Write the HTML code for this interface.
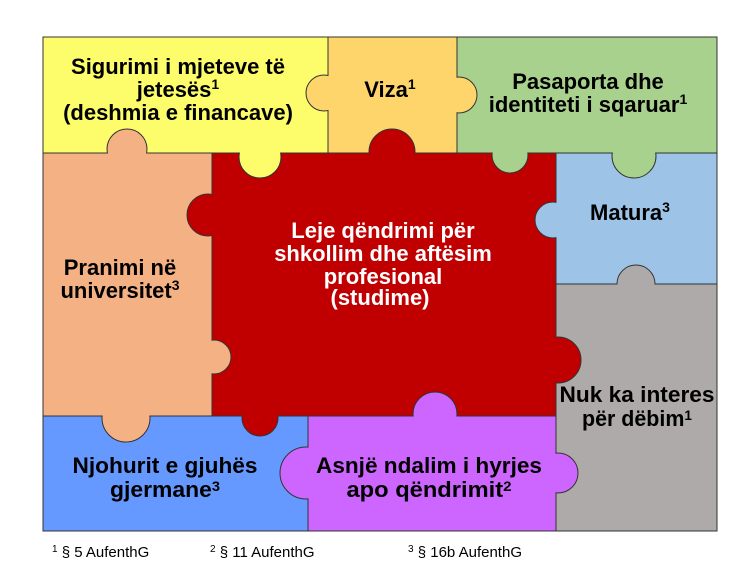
<!DOCTYPE html>
<html><head><meta charset="utf-8"><style>
html,body{margin:0;padding:0;background:#fff;width:754px;height:583px;overflow:hidden}
svg{display:block}
text{font-family:"Liberation Sans",Arial,sans-serif;font-weight:bold;font-size:22px;fill:#000}
.w{fill:#fff}
.f{font-weight:normal;font-size:15px}
</style></head><body>
<svg width="754" height="583" viewBox="0 0 754 583" xmlns="http://www.w3.org/2000/svg">
<g stroke="#333" stroke-width="1">
<rect x="43" y="37" width="285" height="116" fill="#fdfd6b"/>
<rect x="328" y="37" width="129" height="116" fill="#fdd56b"/>
<rect x="457" y="37" width="260" height="116" fill="#a9d18e"/>
<rect x="43" y="153" width="169" height="263" fill="#f4b183"/>
<rect x="212" y="153" width="344" height="263" fill="#c00000"/>
<rect x="556" y="153" width="161" height="131" fill="#9dc3e6"/>
<rect x="556" y="284" width="161" height="247" fill="#aeaaaa"/>
<rect x="43" y="416" width="265" height="115" fill="#6699ff"/>
<rect x="308" y="416" width="248" height="115" fill="#cc66ff"/>
<circle cx="324" cy="93" r="18" fill="#fdd56b"/>
<circle cx="127" cy="149" r="20" fill="#f4b183"/>
<circle cx="260" cy="157" r="21" fill="#fdfd6b"/>
<circle cx="208" cy="215" r="21" fill="#c00000"/>
<circle cx="392" cy="152" r="23" fill="#c00000"/>
<circle cx="459" cy="95" r="18" fill="#fdd56b"/>
<circle cx="510" cy="155" r="18" fill="#a9d18e"/>
<circle cx="634" cy="156" r="22" fill="#a9d18e"/>
<circle cx="553" cy="220" r="18" fill="#9dc3e6"/>
<circle cx="636" cy="284" r="19" fill="#aeaaaa"/>
<circle cx="214" cy="357" r="17" fill="#f4b183"/>
<circle cx="558" cy="360" r="23" fill="#c00000"/>
<circle cx="126" cy="418" r="24" fill="#f4b183"/>
<circle cx="260" cy="418" r="18" fill="#c00000"/>
<circle cx="435" cy="414" r="22" fill="#cc66ff"/>
<circle cx="306" cy="473" r="26" fill="#cc66ff"/>
<circle cx="558" cy="473" r="20" fill="#cc66ff"/>
</g>
<g stroke="none">
<rect x="328.5" y="74" width="20" height="38" fill="#fdd56b"/>
<rect x="106" y="153.5" width="42" height="20" fill="#f4b183"/>
<rect x="238" y="132" width="44" height="20.5" fill="#fdfd6b"/>
<rect x="212.5" y="193" width="22" height="44" fill="#c00000"/>
<rect x="368" y="153.5" width="48" height="26" fill="#c00000"/>
<rect x="437" y="76" width="19.5" height="38" fill="#fdd56b"/>
<rect x="491" y="133" width="38" height="19.5" fill="#a9d18e"/>
<rect x="611" y="130" width="46" height="22.5" fill="#a9d18e"/>
<rect x="556.5" y="201" width="18" height="38" fill="#9dc3e6"/>
<rect x="616" y="284.5" width="40" height="22" fill="#aeaaaa"/>
<rect x="192" y="339" width="19.5" height="36" fill="#f4b183"/>
<rect x="530" y="336" width="25.5" height="48" fill="#c00000"/>
<rect x="101" y="390" width="50" height="25.5" fill="#f4b183"/>
<rect x="241" y="398" width="38" height="17.5" fill="#c00000"/>
<rect x="412" y="416.5" width="46" height="24" fill="#cc66ff"/>
<rect x="308.5" y="446" width="26" height="54" fill="#cc66ff"/>
<rect x="530" y="452" width="25.5" height="42" fill="#cc66ff"/>
</g>
<g text-anchor="middle">
<text x="178" y="74">Sigurimi i mjeteve të</text>
<text x="178" y="97">jetesës<tspan font-size="14" dy="-8">1</tspan></text>
<text x="178" y="120">(deshmia e financave)</text>
<text x="390" y="97">Viza<tspan font-size="14" dy="-8">1</tspan></text>
<text x="588" y="89">Pasaporta dhe</text>
<text x="588" y="112">identiteti i  sqaruar<tspan font-size="14" dy="-8">1</tspan></text>
<text class="w" x="383" y="238">Leje qëndrimi për</text>
<text class="w" x="383" y="261">shkollim dhe aftësim</text>
<text class="w" x="383" y="284">profesional</text>
<text class="w" x="380" y="305" font-size="19">(studime)</text>
<text x="630" y="220">Matura<tspan font-size="14" dy="-8">3</tspan></text>
<text x="120" y="275">Pranimi në</text>
<text x="120" y="298">universitet<tspan font-size="14" dy="-8">3</tspan></text>
<text x="637" y="402" textLength="155" lengthAdjust="spacingAndGlyphs">Nuk ka interes</text>
<text x="637" y="426" textLength="110" lengthAdjust="spacingAndGlyphs">për dëbim<tspan font-size="14" dy="-6">1</tspan></text>
<text x="165" y="473" textLength="185" lengthAdjust="spacingAndGlyphs">Njohurit e gjuhës</text>
<text x="165" y="497" textLength="110" lengthAdjust="spacingAndGlyphs">gjermane<tspan font-size="14" dy="-6">3</tspan></text>
<text x="429" y="473" textLength="226" lengthAdjust="spacingAndGlyphs">Asnjë ndalim i hyrjes</text>
<text x="429" y="497" textLength="165" lengthAdjust="spacingAndGlyphs">apo qëndrimit<tspan font-size="14" dy="-6">2</tspan></text>
</g>
<text class="f" x="52" y="557"><tspan font-size="10" dy="-5">1</tspan><tspan dy="5"> § 5 AufenthG</tspan></text>
<text class="f" x="210" y="557"><tspan font-size="10" dy="-5">2</tspan><tspan dy="5"> § 11 AufenthG</tspan></text>
<text class="f" x="408" y="557"><tspan font-size="10" dy="-5">3</tspan><tspan dy="5"> § 16b AufenthG</tspan></text>
</svg>
</body></html>
